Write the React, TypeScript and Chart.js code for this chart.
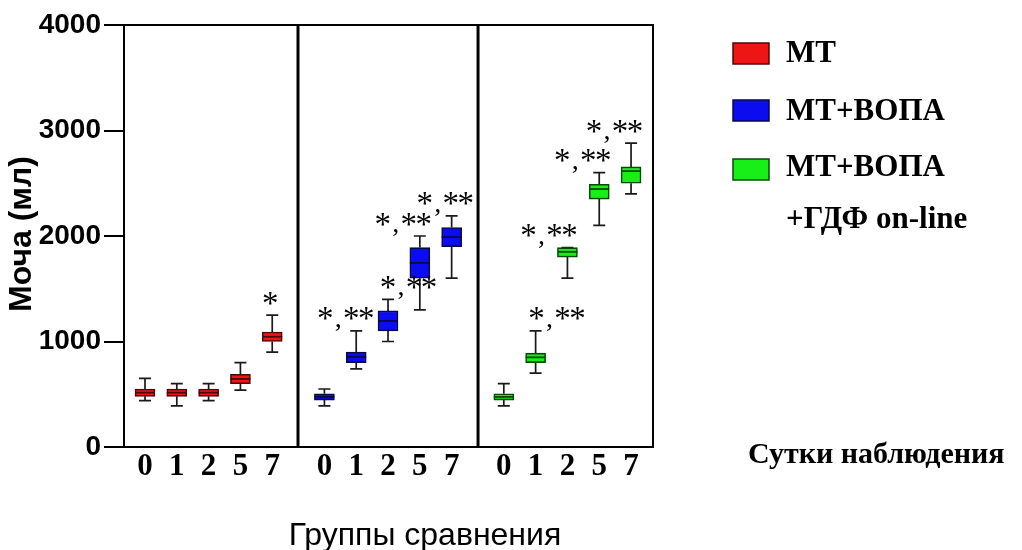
import React, { useEffect, useRef } from 'react';
import { Chart, registerables } from 'chart.js';

Chart.register(...registerables);

// ---- data ----
const DAYS = ['0', '1', '2', '5', '7'];
const GROUPS = ['МТ', 'МТ+ВОПА', 'МТ+ВОПА +ГДФ on-line'];

const MT_MIN = [440, 390, 440, 540, 900];
const MT_Q1 = [480, 480, 480, 600, 1000];
const MT_MED = [515, 515, 515, 645, 1045];
const MT_Q3 = [550, 550, 550, 690, 1090];
const MT_MAX = [650, 600, 600, 800, 1250];

const VOPA_MIN = [390, 740, 1000, 1300, 1600];
const VOPA_Q1 = [445, 800, 1100, 1600, 1900];
const VOPA_MED = [475, 855, 1195, 1745, 1990];
const VOPA_Q3 = [505, 900, 1290, 1890, 2080];
const VOPA_MAX = [550, 1100, 1400, 2000, 2190];

const GDF_MIN = [390, 700, 1600, 2100, 2400];
const GDF_Q1 = [445, 800, 1800, 2350, 2500];
const GDF_MED = [475, 850, 1850, 2445, 2615];
const GDF_Q3 = [505, 890, 1890, 2490, 2655];
const GDF_MAX = [600, 1100, 1890, 2600, 2880];

const Y_TICKS = [0, 1000, 2000, 3000, 4000];

// annotation marks: 1 = "*", 2 = "*, **", 0 = none
const ANN_MT = [0, 0, 0, 0, 1];
const ANN_VOPA = [0, 2, 2, 2, 2];
const ANN_GDF = [0, 2, 2, 2, 2];

// ---- layout (not data) ----
const PANEL_STEP = 5.64;
const X_MIN = -0.66;
const X_MAX = 15.97;
const SEPARATORS = [4.81, 10.47];
const ANN_DX = [
  [0, 0, 0, 0, -7],
  [0, -36, -5, -42, -32],
  [0, -4, -44, -42, -42],
];

const FILL = ['#f01515', '#0c0cf0', '#18ee18'];
const EDGE = ['#4a0808', '#08084a', '#084a08'];

const MINS = [MT_MIN, VOPA_MIN, GDF_MIN];
const Q1S = [MT_Q1, VOPA_Q1, GDF_Q1];
const MEDS = [MT_MED, VOPA_MED, GDF_MED];
const Q3S = [MT_Q3, VOPA_Q3, GDF_Q3];
const MAXS = [MT_MAX, VOPA_MAX, GDF_MAX];
const ANNS = [ANN_MT, ANN_VOPA, ANN_GDF];

const positions: number[] = [];
GROUPS.forEach((_, p) => DAYS.forEach((_, i) => positions.push(p * PANEL_STEP + i)));

function drawGlyph(ctx: any, ch: string, font: string, cx: number, cy: number) {
  ctx.font = font;
  const m = ctx.measureText(ch);
  const asc = m.actualBoundingBoxAscent;
  const desc = m.actualBoundingBoxDescent;
  const base = cy + (asc - desc) / 2;
  ctx.textAlign = 'center';
  ctx.textBaseline = 'alphabetic';
  ctx.fillText(ch, cx, base);
}

const STAR_FONT = '33px "Liberation Serif"';
const COMMA_FONT = '28px "Liberation Serif"';

const boxPlugin = {
  id: 'boxExtras',
  beforeDatasetsDraw(chart: any) {
    const { ctx } = chart;
    const y = chart.scales.y;
    ctx.save();
    ctx.strokeStyle = '#1a1a1a';
    ctx.lineWidth = 1.7;
    chart.data.datasets.forEach((_: any, p: number) => {
      const meta = chart.getDatasetMeta(p);
      meta.data.forEach((el: any, i: number) => {
        const x = el.x;
        const yMax = y.getPixelForValue(MAXS[p][i]);
        const yQ3 = y.getPixelForValue(Q3S[p][i]);
        const yQ1 = y.getPixelForValue(Q1S[p][i]);
        const yMin = y.getPixelForValue(MINS[p][i]);
        ctx.beginPath();
        ctx.moveTo(x, yMax); ctx.lineTo(x, yQ3);
        ctx.moveTo(x, yQ1); ctx.lineTo(x, yMin);
        ctx.moveTo(x - 6, yMax); ctx.lineTo(x + 6, yMax);
        ctx.moveTo(x - 6, yMin); ctx.lineTo(x + 6, yMin);
        ctx.stroke();
      });
    });
    ctx.restore();
  },
  afterDatasetsDraw(chart: any) {
    const { ctx } = chart;
    const y = chart.scales.y;
    ctx.save();
    chart.data.datasets.forEach((_: any, p: number) => {
      const meta = chart.getDatasetMeta(p);
      meta.data.forEach((el: any, i: number) => {
        const x = el.x;
        const w = el.width;
        const ym = y.getPixelForValue(MEDS[p][i]);
        ctx.strokeStyle = EDGE[p];
        ctx.lineWidth = 1.8;
        ctx.beginPath();
        ctx.moveTo(x - w / 2, ym); ctx.lineTo(x + w / 2, ym);
        ctx.stroke();
        const kind = ANNS[p][i];
        if (kind) {
          const ymax = y.getPixelForValue(MAXS[p][i]);
          const left = x + ANN_DX[p][i];
          const starY = ymax - 17;
          ctx.fillStyle = '#000';
          drawGlyph(ctx, '*', STAR_FONT, left + 5, starY);
          if (kind === 2) {
            drawGlyph(ctx, ',', COMMA_FONT, left + 18, ymax - 3);
            drawGlyph(ctx, '*', STAR_FONT, left + 31, starY);
            drawGlyph(ctx, '*', STAR_FONT, left + 46, starY);
          }
        }
      });
    });
    ctx.restore();
  },
  afterDraw(chart: any) {
    const { ctx, chartArea } = chart;
    const xs = chart.scales.x;
    ctx.save();
    ctx.strokeStyle = '#000';
    ctx.lineWidth = 2;
    ctx.beginPath();
    ctx.moveTo(chartArea.left, chartArea.top);
    ctx.lineTo(chartArea.right, chartArea.top);
    ctx.lineTo(chartArea.right, chartArea.bottom);
    ctx.stroke();
    ctx.lineWidth = 3;
    SEPARATORS.forEach((s) => {
      const px = xs.getPixelForValue(s);
      ctx.beginPath();
      ctx.moveTo(px, chartArea.top);
      ctx.lineTo(px, chartArea.bottom);
      ctx.stroke();
    });
    ctx.fillStyle = '#000';
    ctx.save();
    ctx.translate(22, 234);
    ctx.rotate(-Math.PI / 2);
    ctx.font = 'bold 32px "Liberation Sans"';
    ctx.textAlign = 'center';
    ctx.textBaseline = 'middle';
    ctx.fillText('Моча (мл)', 0, 0);
    ctx.restore();
    ctx.font = '32px "Liberation Sans"';
    ctx.textAlign = 'center';
    ctx.textBaseline = 'alphabetic';
    ctx.fillText('Группы сравнения', 425, 545);
    ctx.font = 'bold 30px "Liberation Serif"';
    ctx.textAlign = 'left';
    ctx.fillText('Сутки наблюдения', 748, 463);
    const rects = [43, 100, 159];
    rects.forEach((ry, p) => {
      ctx.fillStyle = FILL[p];
      ctx.fillRect(733, ry, 36, 21);
      ctx.strokeStyle = EDGE[p];
      ctx.lineWidth = 1.5;
      ctx.strokeRect(733, ry, 36, 21);
    });
    ctx.fillStyle = '#000';
    ctx.font = 'bold 31px "Liberation Serif"';
    ctx.fillText(GROUPS[0], 786, 62);
    ctx.fillText(GROUPS[1], 786, 120);
    const parts = GROUPS[2].split(' ');
    ctx.fillText(parts[0], 786, 176);
    ctx.fillText(parts.slice(1).join(' '), 786, 228);
    ctx.restore();
  },
};

export default function App() {
  const ref = useRef<HTMLCanvasElement | null>(null);
  useEffect(() => {
    if (!ref.current) return;
    const chart = new Chart(ref.current, {
      type: 'bar',
      data: {
        datasets: GROUPS.map((g, p) => ({
          label: g,
          data: DAYS.map((_, i) => ({ x: p * PANEL_STEP + i, y: [Q1S[p][i], Q3S[p][i]] })) as any,
          backgroundColor: FILL[p],
          borderColor: EDGE[p],
          borderWidth: 1.6,
          borderSkipped: false,
          barThickness: 20,
          grouped: false,
        })),
      },
      options: {
        responsive: false,
        animation: false,
        layout: { padding: { top: 25, right: 369, left: 0, bottom: 0 } },
        plugins: { legend: { display: false }, tooltip: { enabled: false } },
        scales: {
          x: {
            type: 'linear',
            offset: false,
            min: X_MIN,
            max: X_MAX,
            afterBuildTicks: (s: any) => {
              s.ticks = positions.map((v) => ({ value: v }));
            },
            afterFit: (s: any) => {
              s.height = 103;
            },
            ticks: {
              autoSkip: false,
              maxRotation: 0,
              padding: 1,
              color: '#000',
              font: { family: 'Liberation Serif', size: 31, weight: 'bold' },
              callback: (_v: any, i: number) => DAYS[i % DAYS.length],
            },
            grid: { display: false, drawTicks: false },
            border: { display: true, color: '#000', width: 2 },
          },
          y: {
            min: 0,
            max: 4000,
            afterBuildTicks: (s: any) => {
              s.ticks = Y_TICKS.map((v) => ({ value: v }));
            },
            afterFit: (s: any) => {
              s.width = 124;
            },
            ticks: {
              padding: 3,
              color: '#000',
              font: { family: 'Liberation Sans', size: 28, weight: 'bold' },
              callback: (v: any) => String(v),
            },
            grid: { drawOnChartArea: false, drawTicks: true, tickLength: 20, color: '#000', lineWidth: 2 },
            border: { display: true, color: '#000', width: 2 },
          },
        },
      } as any,
      plugins: [boxPlugin],
    });
    return () => chart.destroy();
  }, []);
  return (
    <div style={{ position: 'fixed', left: 0, top: 0, width: 1022, height: 550, background: '#fff' }}>
      <canvas ref={ref} width={1022} height={550} style={{ display: 'block' }} />
    </div>
  );
}
